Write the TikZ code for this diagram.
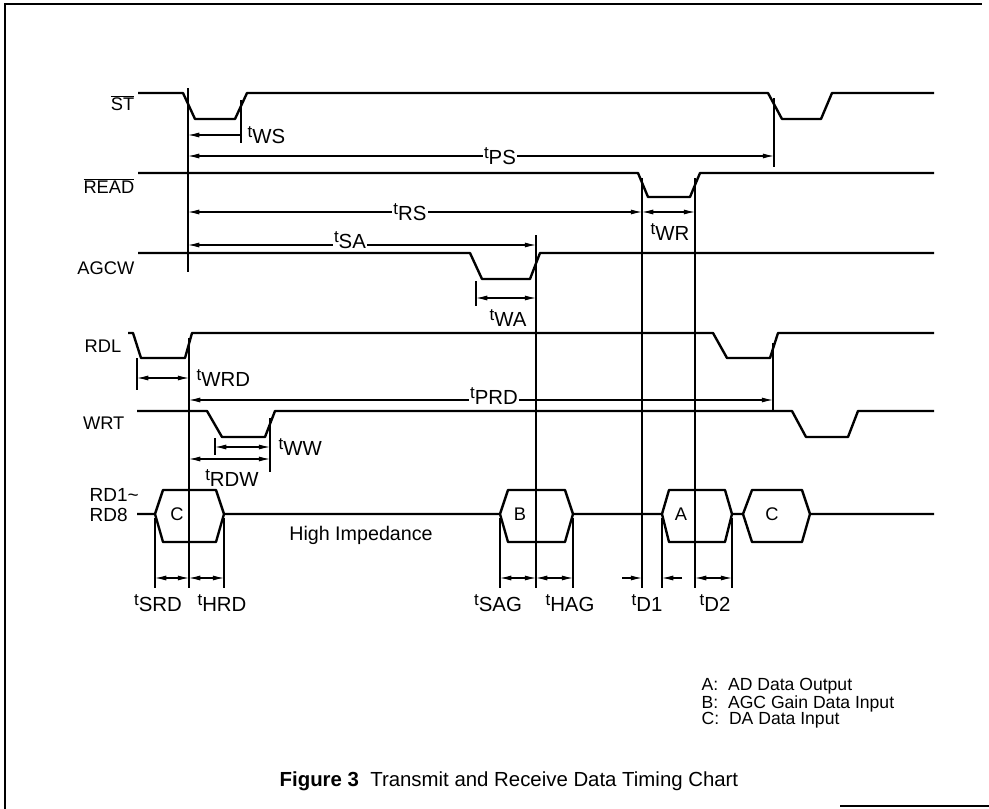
\documentclass[tikz,border=0pt]{standalone}
\usepackage{fontspec}
\setmainfont{Liberation Sans}
\usetikzlibrary{arrows.meta}

\newcommand{\tlab}[1]{\raisebox{0.5ex}{\fontsize{12}{12}\selectfont t}#1}

\begin{document}
\begin{tikzpicture}[x=0.025cm, y=-0.025cm, >={Latex[length=8pt,width=3.6pt]},
	sig/.style={line width=1.7pt, line join=round},
	dim/.style={line width=0.75pt},
	tl/.style={font=\fontsize{14.5}{16}\selectfont},
	every node/.style={font=\fontsize{13}{15}\selectfont, inner sep=1pt}]
		\useasboundingbox (0,0) rectangle (989,809);
		\draw[line width=1.3pt] (5,809) -- (5,4) -- (982,4);
		\draw[line width=1pt] (840,806) -- (989,806);

		\path (136,103) node[anchor=east] (lst) {$\overline{\mbox{ST}}$}
		(136,186) node[anchor=east] (lread) {$\overline{\mbox{READ}}$}
		(136,268) node[anchor=east] (lagcw) {AGCW}
		(123,346) node[anchor=east] (lrdl) {RDL}
		(126,423) node[anchor=east] (lwrt) {WRT}
		(88,505) node[anchor=west, align=left, font=\fontsize{13.5}{14.5}\selectfont] (lrd) {RD1\textasciitilde\\RD8};

		\draw[sig] (138,93) -- (183,93) -- (195,119) -- (235,119) -- (247,93) -- (768,93) -- (782,119) -- (821,119) -- (832,93) -- (934,93);
		\draw[sig] (138,173) -- (638,173) -- (648,197) -- (690,197) -- (700,173) -- (934,173);
		\draw[sig] (138,253) -- (470,253) -- (482,279) -- (530,279) -- (540,253) -- (934,253);
		\draw[sig] (128,333) -- (133,333) -- (141,358) -- (185,358) -- (192,333) -- (713,333) -- (727,358) -- (770,358) -- (778,333) -- (934,333);
		\draw[sig] (137,411) -- (207,411) -- (222,437) -- (265,437) -- (275,411) -- (792,411) -- (806,437) -- (848,437) -- (858,411) -- (934,411);

		\draw[sig] (137,514) -- (155,514)
		(155,514) -- (163,490) -- (216,490) -- (224,514) -- (216,542) -- (163,542) -- cycle
		(224,514) -- (500,514)
		(500,514) -- (508,490) -- (565,490) -- (573,514) -- (565,542) -- (508,542) -- cycle
		(573,514) -- (662,514)
		(662,514) -- (669,490) -- (725,490) -- (732,514) -- (725,542) -- (669,542) -- cycle
		(732,514) -- (743,514)
		(743,514) -- (752,490) -- (802,490) -- (810,514) -- (802,542) -- (752,542) -- cycle
		(810,514) -- (934,514);

		\path (177,514) node (busc) {C}
		(520,514) node (busb) {B}
		(681,514) node (busa) {A}
		(772,514) node (busc2) {C}
		(361,535) node[font=\fontsize{14}{16}\selectfont] (hiz) {High Impedance};

		\draw[dim] (188,88) -- (188,272)
		(189,338) -- (189,588)
		(241,100) -- (241,143)
		(774,98) -- (774,167)
		(642,178) -- (642,588)
		(695,178) -- (695,588)
		(536,235) -- (536,588)
		(476,281) -- (476,306)
		(137,358) -- (137,390)
		(773,343) -- (773,410)
		(215,438) -- (215,455)
		(270,418) -- (270,472)
		(155,518) -- (155,588)
		(224,518) -- (224,588)
		(500,518) -- (500,588)
		(573,518) -- (573,588)
		(662,518) -- (662,588)
		(732,518) -- (732,588);

		\draw[dim,->] (241,135) -- (188,135);
		\draw[dim,<->] (188,156) -- (774,156);
		\draw[dim,<->] (188,212) -- (642,212);
		\draw[dim,<->] (642,212) -- (695,212);
		\draw[dim,<->] (188,245) -- (536,245);
		\draw[dim,<->] (476,298) -- (536,298);
		\draw[dim,<->] (137,378) -- (189,378);
		\draw[dim,<->] (189,400) -- (773,400);
		\draw[dim,<->] (215,447) -- (270,447);
		\draw[dim,<->] (189,459) -- (270,459);
		\draw[dim,<->] (155,578) -- (189,578);
		\draw[dim,<->] (189,578) -- (224,578);
		\draw[dim,<->] (500,578) -- (536,578);
		\draw[dim,<->] (536,578) -- (573,578);
		\draw[dim,->] (622,578) -- (642,578);
		\draw[dim,->] (682,578) -- (662,578);
		\draw[dim,<->] (695,578) -- (732,578);

		\path (246,135) node[tl, anchor=west] (tws) {\tlab{WS}}
		(500,156) node[tl, fill=white] (tps) {\tlab{PS}}
		(410,212) node[tl, fill=white] (trs) {\tlab{RS}}
		(670,232) node[tl] (twr) {\tlab{WR}}
		(350,240) node[tl, fill=white] (tsa) {\tlab{SA}}
		(508,318) node[tl] (twa) {\tlab{WA}}
		(195,378) node[tl, anchor=west] (twrd) {\tlab{WRD}}
		(494,396) node[tl, fill=white] (tprd) {\tlab{PRD}}
		(277,447) node[tl, anchor=west] (tww) {\tlab{WW}}
		(232,478) node[tl] (trdw) {\tlab{RDW}}
		(158,603) node[tl] (tsrd) {\tlab{SRD}}
		(222,603) node[tl] (thrd) {\tlab{HRD}}
		(498,603) node[tl] (tsag) {\tlab{SAG}}
		(570,603) node[tl] (thag) {\tlab{HAG}}
		(647,603) node[tl] (td1) {\tlab{D1}}
		(715,603) node[tl] (td2) {\tlab{D2}};

		\path (700,703) node[anchor=west, align=left, font=\fontsize{12.5}{11.4}\selectfont] (leg) {A:\ \ AD Data Output\\B:\ \ AGC Gain Data Input\\C:\ \ DA Data Input}
		(278,781) node[anchor=west, font=\fontsize{14.5}{16}\selectfont] (cap) {\textbf{Figure 3}\ \ Transmit and Receive Data Timing Chart};

	\end{tikzpicture}
\end{document}
